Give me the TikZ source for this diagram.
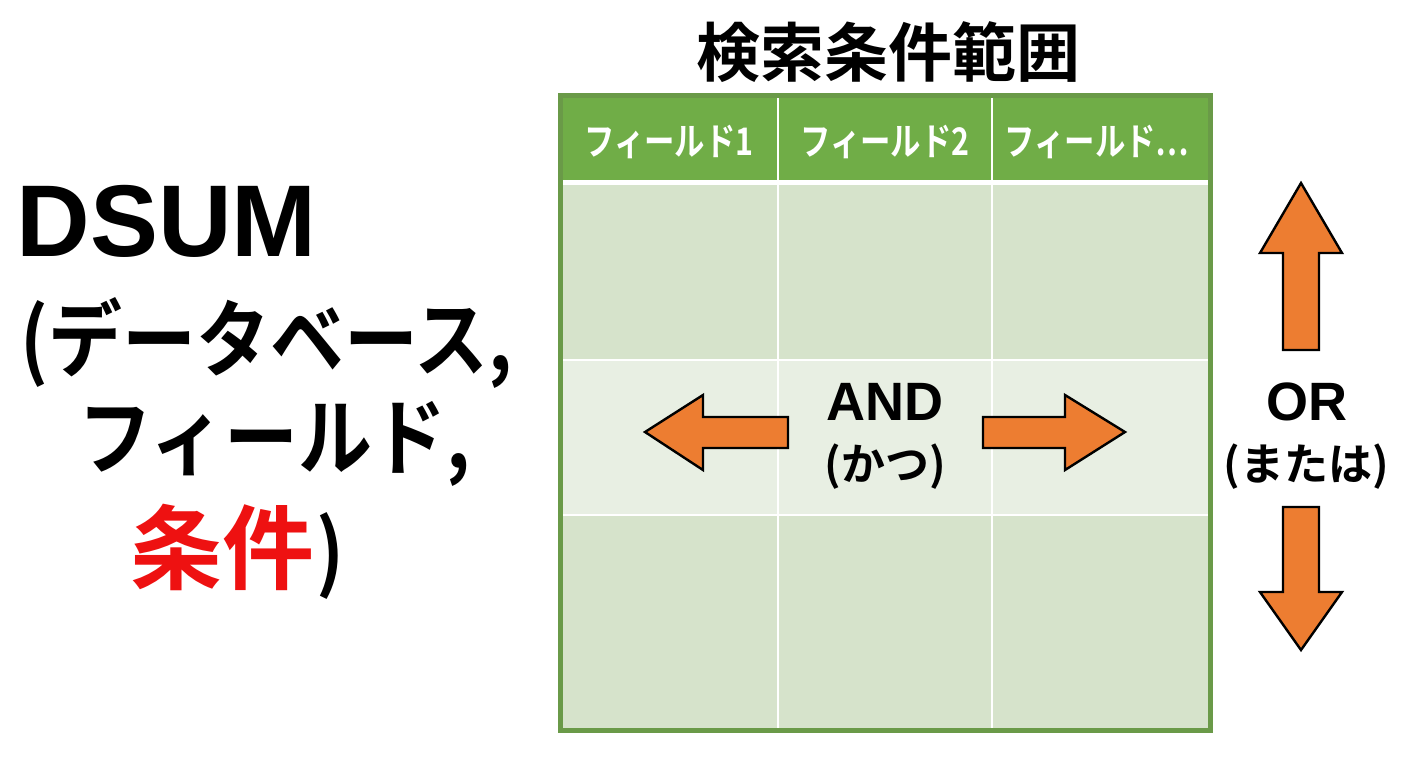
\documentclass[tikz,border=0pt]{standalone}
\usepackage{fontspec}
\newfontfamily\jpb{Noto Sans CJK JP Bold}
\newfontfamily\jpbc{Noto Sans CJK JP Bold}[FakeStretch=0.8]
\newfontfamily\jpbn{Noto Sans CJK JP Bold}[FakeStretch=0.88]
\newfontfamily\lsb{Liberation Sans Bold}
\definecolor{hdrgreen}{HTML}{70AD47}
\definecolor{bordgreen}{HTML}{6A9A48}
\definecolor{bodygreen}{HTML}{D6E3CB}
\definecolor{midgreen}{HTML}{E8EFE3}
\definecolor{arrorange}{HTML}{ED7D31}
\definecolor{condred}{HTML}{EE1111}
\begin{document}
\begin{tikzpicture}[x=0.5pt,y=-0.5pt,
  hdr/.style={text=white,font=\jpbc\fontsize{19pt}{22pt}\selectfont,anchor=base,inner sep=0pt},
  bigl/.style={font=\jpbn\fontsize{42pt}{48pt}\selectfont,anchor=base west,inner sep=0pt},
  andtxt/.style={font=\lsb\fontsize{27pt}{31pt}\selectfont,anchor=base,inner sep=0pt},
  kanatxt/.style={font=\jpb\fontsize{22pt}{26pt}\selectfont,anchor=base,inner sep=0pt},
  orarrow/.style={fill=arrorange,draw=black,line width=1.2pt,line join=miter},
  gridline/.style={draw=white,line width=1pt}]
\useasboundingbox (0,0) rectangle (1408,768);
\fill[white] (0,0) rectangle (1408,768);
% title
\node[font=\jpb\fontsize{32pt}{38pt}\selectfont,anchor=base,inner sep=0pt] (title) at (888,76) {検索条件範囲};
% table body
\fill[bodygreen] (560,95) rectangle (1210,730);
\fill[midgreen] (560,360) rectangle (1210,515);
\fill[hdrgreen] (560,95) rectangle (1210,181);
\draw[white,line width=2.5pt] (560,182) -- (1210,182);
\draw[gridline] (778,97) -- (778,728);
\draw[gridline] (992,97) -- (992,728);
\draw[gridline] (562,360) -- (1208,360);
\draw[gridline] (562,515) -- (1208,515);
\draw[bordgreen,line width=2.5pt] (560,95) rectangle (1210,730);
% header
\node[hdr] (h1) at (669,155) {フィールド1};
\node[hdr] (h2) at (885,155) {フィールド2};
\node[hdr] (h3) at (1097,155) {フィールド…};
% AND
\node[andtxt] (and) at (885,420) {AND};
\node[kanatxt] (katsu) at (885,480) {(かつ)};
\draw[orarrow] (645,432) -- (703,395) -- (703,417) -- (788,417) -- (788,448) -- (703,448) -- (703,470) -- cycle;
\draw[orarrow] (1125,432) -- (1065,395) -- (1065,417) -- (983,417) -- (983,448) -- (1065,448) -- (1065,470) -- cycle;
% OR
\node[andtxt] (or) at (1307,420) {OR};
\node[kanatxt] (matawa) at (1306,480) {(または)};
\draw[orarrow] (1301,183) -- (1342,253) -- (1319,253) -- (1319,350) -- (1283,350) -- (1283,253) -- (1260,253) -- cycle;
\draw[orarrow] (1301,650) -- (1342,592) -- (1319,592) -- (1319,507) -- (1283,507) -- (1283,592) -- (1260,592) -- cycle;
% left text
\node[font=\lsb\fontsize{51pt}{60pt}\selectfont,anchor=base west,inner sep=0pt] (dsum) at (16,256) {DSUM};
\node[bigl] (l1) at (20,370) {(データベース,};
\node[bigl] (l2) at (78,468) {フィールド,};
\node[font=\jpb\fontsize{46pt}{52pt}\selectfont,anchor=base west,inner sep=0pt,text=condred] (l3) at (130,582) {条件};
\node[bigl] (l3p) at (316,582) {)};
\end{tikzpicture}
\end{document}
